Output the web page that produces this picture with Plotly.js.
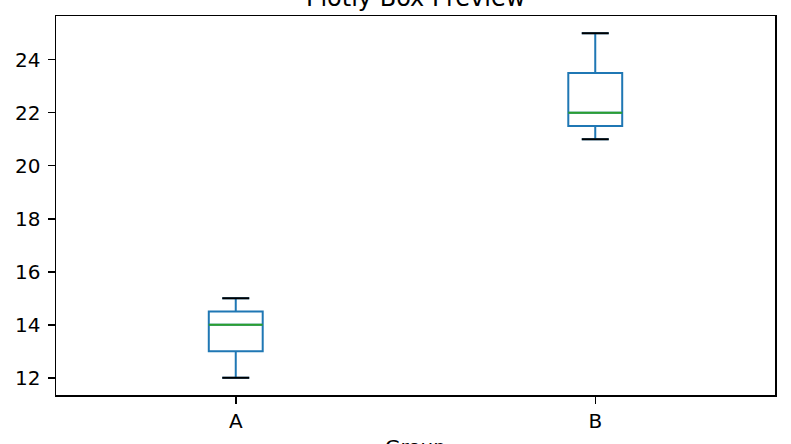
<!DOCTYPE html>
<html>
<head>
<meta charset="utf-8">
<script src="https://cdn.plot.ly/plotly-3.0.1.min.js"></script>
<style>html,body{margin:0;padding:0;background:#fff;}#chart{width:791px;height:444px;}</style>
</head>
<body>
<div id="chart"></div>
<script>
// Data
const categories = ["A", "B"];
const lowerFence = [12, 21];
const q1 = [13, 21.5];
const median = [14, 22];
const q3 = [14.5, 23.5];
const upperFence = [15, 25];
const yTicks = [12, 14, 16, 18, 20, 22, 24];
const xTitle = "Group";
const chartTitle = "Plotly Box Preview";

const positions = categories.map((c, i) => i);
const boxWidth = 0.15;
const capHalf = boxWidth / 4;
const medHalf = boxWidth / 2;

const boxTrace = {
  type: "box",
  x: positions,
  q1: q1, median: median, q3: q3,
  lowerfence: lowerFence, upperfence: upperFence,
  width: boxWidth,
  whiskerwidth: 0.5,
  line: {color: "#1f77b4", width: 2},
  fillcolor: "rgba(0,0,0,0)",
  boxpoints: false,
  hoverinfo: "skip",
  showlegend: false
};

function segs(vals, half) {
  const xs = [], ys = [];
  positions.forEach((p, i) => {
    xs.push(p - half, p + half, null);
    ys.push(vals[i], vals[i], null);
  });
  return {xs, ys};
}
const med = segs(median, medHalf);
const lo = segs(lowerFence, capHalf);
const hi = segs(upperFence, capHalf);

const medTrace = {type: "scatter", mode: "lines", x: med.xs, y: med.ys,
  line: {color: "#2ca02c", width: 2}, hoverinfo: "skip", showlegend: false};
const capTrace = {type: "scatter", mode: "lines",
  x: lo.xs.concat(hi.xs), y: lo.ys.concat(hi.ys),
  line: {color: "#000000", width: 2}, hoverinfo: "skip", showlegend: false};

const font = "DejaVu Sans, sans-serif";
const layout = {
  width: 791, height: 444,
  margin: {l: 56, r: 16, t: 16, b: 49},
  paper_bgcolor: "#ffffff", plot_bgcolor: "#ffffff",
  font: {family: font, size: 20, color: "#000"},
  title: {text: chartTitle, font: {family: font, size: 24, color: "#000"},
    x: 0.5255, xanchor: "center", xref: "container",
    y: 1 - 6 / 444, yref: "container", yanchor: "bottom"},
  xaxis: {
    range: [-0.5, 1.5], tickvals: positions, ticktext: categories,
    showgrid: false, zeroline: false,
    showline: true, mirror: true, linecolor: "#000", linewidth: 1.5,
    ticks: "outside", ticklen: 7, tickwidth: 1.5, tickcolor: "#000",
    tickfont: {family: font, size: 20, color: "#000"}
  },
  yaxis: {
    range: [11.35, 25.65], tickvals: yTicks,
    showgrid: false, zeroline: false,
    showline: true, mirror: true, linecolor: "#000", linewidth: 1.5,
    ticks: "outside", ticklen: 7, tickwidth: 1.5, tickcolor: "#000",
    ticklabelstandoff: 3,
    tickfont: {family: font, size: 20, color: "#000"}
  },
  annotations: [{
    text: xTitle, xref: "paper", yref: "paper", x: 0.5, y: 0,
    xanchor: "center", yanchor: "top", yshift: -38, showarrow: false,
    font: {family: font, size: 20, color: "#000"}
  }]
};

Plotly.newPlot("chart", [boxTrace, medTrace, capTrace], layout, {staticPlot: true, displayModeBar: false});
</script>
</body>
</html>
